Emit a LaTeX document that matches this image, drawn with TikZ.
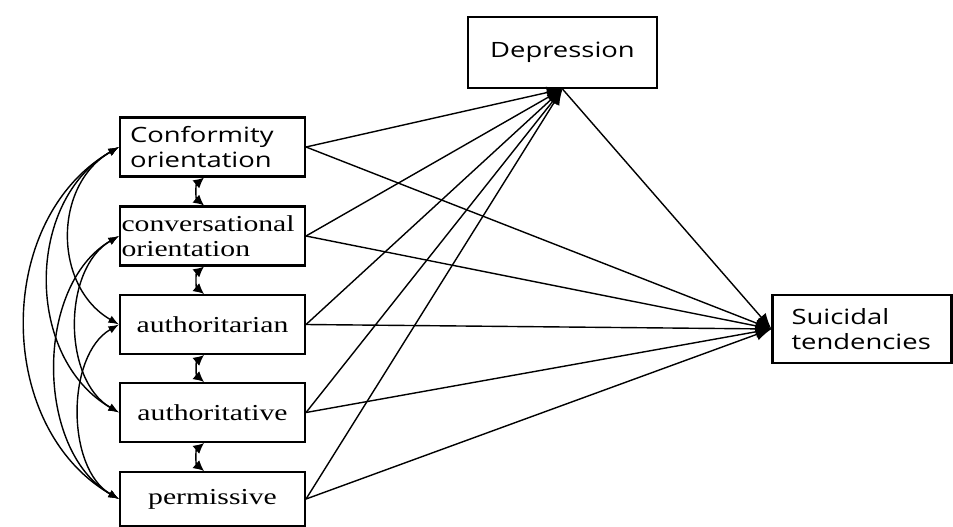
\documentclass[tikz,border=0pt]{standalone}
\usepackage{fontspec}
\newfontfamily\boxsans[FakeStretch=1.3]{Open Sans}
\newfontfamily\boxserif[FakeStretch=1.3]{Liberation Serif}
\usetikzlibrary{arrows.meta}

\tikzset{
    fam/.style={draw, line width=1.2pt, text width=3.3cm, inner xsep=0.2cm,
        minimum height=1.18cm, align=center, font=\boxserif\fontsize{13}{14.2}\selectfont},
    path/.style={line width=0.8pt, -{Latex[length=9pt,width=7pt]}},
    cov/.style={line width=0.8pt, {Latex[length=6pt,width=4.5pt]}-{Latex[length=6pt,width=4.5pt]}},
    near/.style={line width=0.8pt, {Latex[length=6pt,width=6pt]}-{Latex[length=6pt,width=6pt]}},
}

\begin{document}
\begin{tikzpicture}[x=0.02cm,y=-0.02cm]
    \useasboundingbox (0,0) rectangle (953,527);

    % family patterns
    \node[fam, align=left, font=\boxsans\fontsize{12}{14}\selectfont] (conf) at (212.5,147) {Conformity\\orientation};
    \node[fam, align=left, text width=3.64cm, inner xsep=0.03cm] (conv) at (212.5,236) {conversational\\orientation};
    \node[fam] (autn) at (212.5,324.5) {authoritarian};
    \node[fam] (autv) at (212.5,412.5) {authoritative};
    \node[fam, minimum height=1.08cm] (perm) at (212.5,499) {permissive};

    % outcomes
    \node[draw, line width=1.2pt, minimum width=3.78cm, minimum height=1.42cm,
        font=\boxsans\fontsize{12}{14}\selectfont] (dep) at (562.5,52.5) {Depression};
    \node[draw, line width=1.2pt, text width=2.82cm, inner xsep=0.38cm, minimum height=1.36cm,
        align=left, font=\boxsans\fontsize{12}{14}\selectfont] (sui) at (862,329) {Suicidal\\tendencies};

    \foreach \n in {conf, conv, autn, autv, perm} {
        \draw[path] (\n.east) -- (dep.south);
        \draw[path] (\n.east) -- (sui.west);
    }
    \draw[path] (dep.south) -- (sui.west);

    % correlations between neighbours
    \foreach \a/\b in {conf/conv, conv/autn, autn/autv, autv/perm}
        \draw[near] ([xshift=-0.17cm]\a.south) to[bend right=50] ([xshift=-0.17cm]\b.north);

    % correlations on the left
    \foreach \a/\b/\lo in {conf/autn/1.1, conf/autv/1.05, conf/perm/1.05,
                           conv/autv/0.95, conv/perm/0.95, autn/perm/0.9}
        \draw[cov] (\a.west) to[bend right=60, looseness=\lo] (\b.west);
\end{tikzpicture}
\end{document}
